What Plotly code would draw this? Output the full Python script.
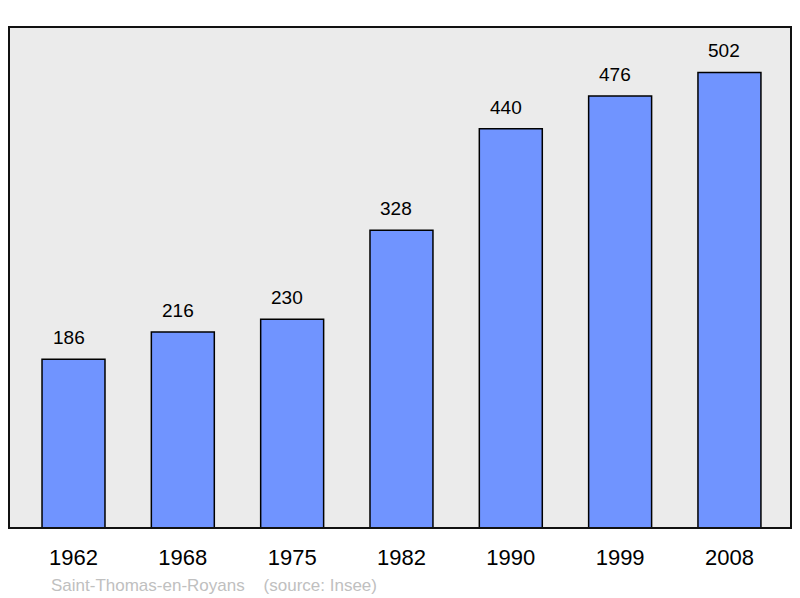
import plotly.graph_objects as go

years = ["1962", "1968", "1975", "1982", "1990", "1999", "2008"]
population = [186, 216, 230, 328, 440, 476, 502]
footer = "Saint-Thomas-en-Royans    (source: Insee)"

xpos = list(range(len(years)))

fig = go.Figure()
fig.add_trace(go.Bar(
    x=xpos, y=population, width=0.576,
    marker=dict(color="#7094ff", line=dict(color="#000000", width=1.5)),
    hoverinfo="skip",
))

for x, v in zip(xpos, population):
    fig.add_annotation(x=x, y=v, text=str(v), showarrow=False,
                       xanchor="center", yanchor="bottom", yshift=9, xshift=-5,
                       font=dict(family="Liberation Sans, Arial", size=19, color="#000"))

fig.add_annotation(xref="paper", yref="paper", x=(49 - 9) / 782, y=-(585 - 528) / 501,
                   text=footer, showarrow=False, xanchor="left", yanchor="middle",
                   font=dict(family="Liberation Sans, Arial", size=17, color="#c0c0c0"))

fig.add_shape(type="rect", xref="paper", yref="paper", x0=0, y0=0, x1=1, y1=1,
              line=dict(color="#111111", width=2), fillcolor="rgba(0,0,0,0)", layer="above")

# page body has an 8px margin; compensate so plot area lands at 9..791 x 27..528
fig.update_layout(
    width=792, height=590,
    margin=dict(l=1, r=9, t=19, b=70),
    paper_bgcolor="#ffffff", plot_bgcolor="#ebebeb",
    showlegend=False,
    xaxis=dict(range=[-0.59, 6.563], tickvals=xpos, ticktext=years, showgrid=False,
               zeroline=False, ticks="", ticklabelstandoff=14,
               tickfont=dict(family="Liberation Sans, Arial", size=22, color="#000")),
    yaxis=dict(range=[0, 552], showgrid=False, zeroline=False, showticklabels=False, ticks=""),
)

fig.write_html("out.html")
